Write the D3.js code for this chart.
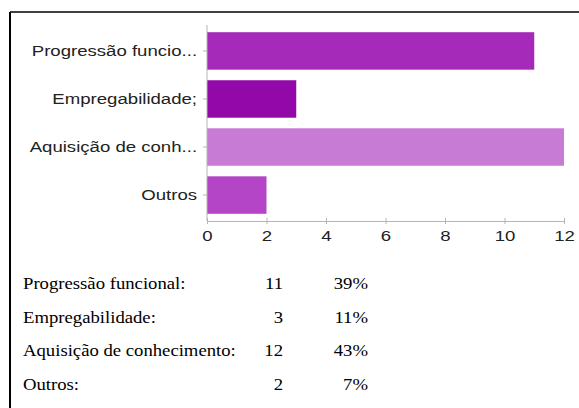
<!DOCTYPE html>
<html>
<head>
<meta charset="utf-8">
<script src="https://cdn.jsdelivr.net/npm/d3@7.9.0/dist/d3.min.js"></script>
<style>
  body { margin: 0; background: #fff; }
  svg { display: block; }
</style>
</head>
<body>
<svg width="579" height="408"></svg>
<script>
const labels = ['Progressão funcio...', 'Empregabilidade;', 'Aquisição de conh...', 'Outros'];
const values = [11, 3, 12, 2];
const colors = ['#a52ab9', '#9308a9', '#c87bd4', '#b445c7'];
const tickValues = [0, 2, 4, 6, 8, 10, 12];

const tableNames = ['Progressão funcional:', 'Empregabilidade:', 'Aquisição de conhecimento:', 'Outros:'];
const tableCounts = [11, 3, 12, 2];
const tablePcts = ['39%', '11%', '43%', '7%'];

const svg = d3.select('svg');

// frame
svg.append('line').attr('x1', 10).attr('x2', 579).attr('y1', 12).attr('y2', 12)
  .attr('stroke', '#000').attr('stroke-width', 1.5);
svg.append('line').attr('x1', 10).attr('x2', 10).attr('y1', 12).attr('y2', 408)
  .attr('stroke', '#000').attr('stroke-width', 2);

let x = d3.scaleLinear().domain([0, 12]).range([207, 564]);
let y = d3.scaleBand().domain(labels).range([25, 221]).paddingInner(0.22).paddingOuter(0.15);

// bars
svg.selectAll('rect.bar')
  .data(values)
  .join('rect')
  .attr('class', 'bar')
  .attr('x', x(0))
  .attr('y', (d, i) => y(labels[i]))
  .attr('width', (d) => x(d) - x(0))
  .attr('height', y.bandwidth())
  .attr('fill', (d, i) => colors[i]);

// y axis
let yAxis = svg.append('g')
  .attr('transform', `translate(${x(0)},0)`)
  .call(d3.axisLeft(y).tickSize(4).tickPadding(2));
yAxis.select('.domain').attr('stroke', '#b5b5b5').attr('d', `M0,25V221`);
yAxis.selectAll('.tick line').attr('stroke', '#b5b5b5');
yAxis.selectAll('text').attr('font-family', 'Liberation Sans, Arial, sans-serif')
  .attr('font-size', 15.5).attr('fill', '#222')
  .attr('x', -8.3).attr('transform', 'scale(1.2,1)');

// x axis
let xAxis = svg.append('g')
  .attr('transform', 'translate(0,221)')
  .call(d3.axisBottom(x).tickValues(tickValues).tickSize(4).tickSizeOuter(0).tickPadding(5));
xAxis.select('.domain').attr('stroke', '#b5b5b5');
xAxis.selectAll('.tick line').attr('stroke', '#b5b5b5').attr('y1', -3).attr('y2', 3);
xAxis.selectAll('text').attr('font-family', 'Liberation Sans, Arial, sans-serif')
  .attr('font-size', 15.5).attr('fill', '#222').attr('transform', 'scale(1.2,1)');

// table below
let rowY = d3.scalePoint().domain(tableNames).range([283, 384]);
let rows = svg.append('g').attr('font-family', 'Liberation Serif, Times New Roman, serif')
  .attr('font-size', 17).attr('fill', '#000');
function cell(tx, ty, txt, anchor) {
  rows.append('text')
    .attr('transform', `translate(${tx},${ty}) scale(1.1,1)`)
    .attr('text-anchor', anchor)
    .text(txt);
}
tableNames.forEach((name, i) => {
  let yy = rowY(name) + 6;
  cell(23, yy, name, 'start');
  cell(283, yy, tableCounts[i], 'end');
  cell(368, yy, tablePcts[i], 'end');
});
</script>
</body>
</html>
